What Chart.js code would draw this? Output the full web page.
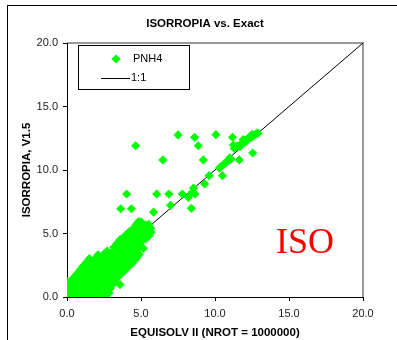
<!DOCTYPE html>
<html>
<head>
<meta charset="utf-8">
<script src="https://cdn.jsdelivr.net/npm/chart.js@4/dist/chart.umd.min.js"></script>
<style>
  html, body { margin: 0; padding: 0; background: #fff; }
  canvas { display: block; }
</style>
</head>
<body>
<canvas id="isoChart" width="397" height="340"></canvas>
<script>
// PNH4: EQUISOLV II (x) against ISORROPIA V1.5 (y)
const pnh4Exact = [
  0.02, 0.31, 0.58, 0.93, 1.21, 1.49, 1.82, 2.08, 2.37, 2.58,
  0.11, 0.42, 0.74, 1.03, 1.34, 1.62, 1.93, 2.24, 2.55, 2.83,
  0.01, 0.28, 0.61, 0.89, 1.18, 1.52, 1.79, 2.12, 2.43, 2.91,
  0.08, 0.47, 0.79, 1.12, 1.41, 1.73, 2.02, 2.38, 2.76, 3.08,
  0.03, 0.32, 0.68, 0.97, 1.29, 1.66, 1.98, 2.31, 2.62, 2.94, 3.22,
  0.41, 0.77, 1.09, 1.43, 1.81, 2.13, 2.47, 2.79, 3.12, 3.41,
  0.66, 1.02, 1.31, 1.63, 1.97, 2.29, 2.68, 3.01, 3.37, 3.68,
  0.88, 1.19, 1.53, 1.87, 2.21, 2.57, 2.92, 3.23, 3.58, 3.94,
  1.07, 1.38, 1.77, 2.09, 2.46, 2.81, 3.14, 3.47, 3.82, 4.17,
  1.31, 1.62, 1.99, 2.33, 2.71, 3.03, 3.38, 3.72, 4.08, 4.41,
  1.52, 1.88, 2.19, 2.58, 2.93, 3.27, 3.61, 3.98, 4.32, 4.69,
  2.09, 2.48, 2.83, 3.18, 3.52, 3.87, 4.21, 4.57, 4.88,
  2.71, 3.08, 3.43, 3.79, 4.12, 4.48, 4.71,
  3.17, 3.52, 3.88, 4.23, 4.59, 4.74,
  3.38, 3.71, 4.06, 4.42, 4.77, 4.93,
  3.59, 3.93, 4.28, 4.63, 4.98, 5.29,
  3.91, 4.19, 4.52, 4.87, 5.21, 5.52,
  4.18, 4.49, 4.81, 5.13, 5.43, 5.68,
  4.47, 4.79, 5.08, 5.41, 5.66,
  4.68, 4.99, 5.31, 5.52,
  4.84, 5.02,
  3.58, 5.16, 3.63, 4.35, 5.85,
  4.64, 7.50, 8.62, 10.06, 11.18, 8.87, 6.48, 9.21,
  4.03, 6.06, 6.88, 7.79, 8.20, 8.55, 8.65, 8.45, 7.00, 8.40,
  9.30, 9.60, 10.50, 10.40, 10.74, 11.07, 11.64, 12.55,
  10.30, 10.55, 10.85, 11.00,
  11.24, 11.69, 12.03, 12.36, 12.82, 11.30, 11.50, 11.80, 12.00,
  12.20, 12.45, 12.60, 12.75, 12.90, 12.15, 11.90, 12.50
];
const pnh4Iso = [
  0.00, 0.04, 0.01, 0.06, 0.02, 0.00, 0.05, 0.03, 0.01, 0.02,
  0.33, 0.27, 0.31, 0.36, 0.29, 0.34, 0.28, 0.32, 0.26, 0.31,
  0.62, 0.58, 0.65, 0.57, 0.63, 0.60, 0.66, 0.59, 0.61, 0.64,
  0.91, 0.88, 0.94, 0.87, 0.92, 0.95, 0.89, 0.93, 0.90, 0.97,
  1.19, 1.24, 1.17, 1.22, 1.26, 1.18, 1.23, 1.21, 1.27, 1.20, 1.16,
  1.48, 1.53, 1.51, 1.46, 1.55, 1.49, 1.52, 1.57, 1.50, 1.54,
  1.82, 1.78, 1.85, 1.80, 1.84, 1.79, 1.83, 1.86, 1.81, 1.85,
  2.12, 2.08, 2.15, 2.11, 2.07, 2.14, 2.10, 2.16, 2.09, 2.13,
  2.41, 2.44, 2.38, 2.43, 2.39, 2.45, 2.42, 2.37, 2.46, 2.40,
  2.72, 2.69, 2.75, 2.71, 2.68, 2.74, 2.70, 2.76, 2.73, 2.67,
  3.02, 2.98, 3.05, 3.01, 2.97, 3.04, 3.00, 3.06, 2.99, 3.03,
  3.31, 3.36, 3.28, 3.33, 3.29, 3.35, 3.32, 3.27, 3.34,
  3.62, 3.58, 3.64, 3.60, 3.65, 3.59, 3.63,
  3.91, 3.87, 3.93, 3.89, 3.94, 3.90,
  4.22, 4.18, 4.24, 4.20, 4.17, 4.23,
  4.52, 4.57, 4.49, 4.54, 4.51, 4.56,
  4.81, 4.78, 4.84, 4.80, 4.83, 4.79,
  5.12, 5.08, 5.14, 5.09, 5.13, 5.10,
  5.39, 5.43, 5.37, 5.44, 5.41,
  5.71, 5.68, 5.66, 5.73,
  5.94, 5.90,
  0.98, 3.83, 6.95, 6.95, 6.68,
  11.91, 12.76, 12.57, 12.78, 12.58, 11.91, 10.79, 10.79,
  8.11, 8.11, 8.11, 8.11, 7.85, 8.58, 8.11, 8.25, 7.22, 6.98,
  8.90, 9.55, 9.55, 10.26, 10.60, 10.84, 10.79, 11.34,
  10.15, 10.40, 10.70, 10.95,
  11.97, 11.83, 12.36, 12.62, 12.89, 11.70, 11.90, 12.10, 12.20,
  12.45, 12.55, 12.70, 12.80, 12.90, 12.30, 12.40, 12.80
];

// 1:1 reference line
const oneToOneX = [0, 20];
const oneToOneY = [0, 20];

const axisMin = 0;
const axisMax = 20;
const axisStep = 5;

const FONT = "'Liberation Sans', Arial, sans-serif";

const toPoints = (xs, ys) => xs.map((x, i) => ({ x: x, y: ys[i] }));

// frame, plot border, title, legend box and the ISO tag
const decorations = {
  id: 'decorations',
  beforeDraw(chart) {
    const { ctx, chartArea: a } = chart;
    ctx.save();
    ctx.strokeStyle = '#000';
    ctx.lineWidth = 1;
    ctx.strokeRect(7.5, 5.5, 600, 600);

    ctx.strokeStyle = '#999';
    ctx.lineWidth = 2;
    ctx.beginPath();
    ctx.moveTo(a.left, a.top);
    ctx.lineTo(a.right, a.top);
    ctx.lineTo(a.right, a.bottom);
    ctx.stroke();

    ctx.fillStyle = '#000';
    ctx.font = 'bold 11.5px ' + FONT;
    ctx.textAlign = 'center';
    ctx.textBaseline = 'middle';
    ctx.fillText('ISORROPIA vs. Exact', 205, 24);
    ctx.restore();
  },
  afterDraw(chart) {
    const { ctx } = chart;
    const sets = chart.data.datasets;
    ctx.save();
    ctx.strokeStyle = '#000';
    ctx.lineWidth = 1;
    ctx.fillStyle = '#fff';
    ctx.fillRect(78.5, 45.5, 111, 44);
    ctx.strokeRect(78.5, 45.5, 111, 44);

    // marker entry
    ctx.fillStyle = sets[0].backgroundColor;
    ctx.beginPath();
    ctx.moveTo(116, 54.5);
    ctx.lineTo(120.5, 59);
    ctx.lineTo(116, 63.5);
    ctx.lineTo(111.5, 59);
    ctx.closePath();
    ctx.fill();

    // line entry
    ctx.strokeStyle = sets[1].borderColor;
    ctx.beginPath();
    ctx.moveTo(101, 78.5);
    ctx.lineTo(130, 78.5);
    ctx.stroke();

    ctx.fillStyle = '#000';
    ctx.font = '11px ' + FONT;
    ctx.textAlign = 'left';
    ctx.textBaseline = 'middle';
    ctx.fillText(sets[0].label, 133, 59);
    ctx.fillText(sets[1].label, 131, 78);

    ctx.fillStyle = '#ff0000';
    ctx.font = "36px 'Liberation Serif', 'Times New Roman', serif";
    ctx.textBaseline = 'alphabetic';
    ctx.fillText('ISO', 276, 253);
    ctx.restore();
  }
};

const tickFont = { family: FONT, size: 11 };
const titleFont = { family: FONT, size: 11.5, weight: 'bold' };

new Chart(document.getElementById('isoChart'), {
  type: 'scatter',
  data: {
    datasets: [
      {
        label: 'PNH4',
        data: toPoints(pnh4Exact, pnh4Iso),
        pointStyle: 'rectRot',
        pointRadius: 4.6,
        pointHoverRadius: 4.6,
        backgroundColor: '#00ff00',
        borderColor: '#00ff00',
        borderWidth: 0
      },
      {
        label: '1:1',
        data: toPoints(oneToOneX, oneToOneY),
        showLine: true,
        borderColor: '#000',
        borderWidth: 1,
        pointRadius: 0,
        backgroundColor: '#000'
      }
    ]
  },
  options: {
    responsive: false,
    animation: false,
    devicePixelRatio: 1,
    layout: { padding: { top: 43, right: 34, bottom: 0, left: 7 } },
    plugins: {
      legend: { display: false },
      tooltip: { enabled: false },
      title: { display: false }
    },
    scales: {
      x: {
        type: 'linear',
        min: axisMin,
        max: axisMax,
        ticks: {
          stepSize: axisStep,
          callback: v => v.toFixed(1),
          color: '#222',
          font: tickFont,
          padding: 6,
          maxRotation: 0
        },
        grid: { drawOnChartArea: false, tickLength: 4, color: '#000' },
        border: { color: '#000', width: 1 },
        title: {
          display: true,
          text: 'EQUISOLV II (NROT = 1000000)',
          color: '#000',
          font: titleFont,
          padding: { top: 2, bottom: 0 }
        },
        afterFit: s => { s.height = 43; }
      },
      y: {
        type: 'linear',
        min: axisMin,
        max: axisMax,
        ticks: {
          stepSize: axisStep,
          callback: v => v.toFixed(1),
          color: '#222',
          font: tickFont,
          padding: 5
        },
        grid: { drawOnChartArea: false, tickLength: 4, color: '#000' },
        border: { color: '#000', width: 1 },
        title: {
          display: true,
          text: 'ISORROPIA, V1.5',
          color: '#000',
          font: titleFont,
          padding: { top: 13, bottom: 0 }
        },
        afterFit: s => { s.width = 60; }
      }
    }
  },
  plugins: [decorations]
});
</script>
</body>
</html>
